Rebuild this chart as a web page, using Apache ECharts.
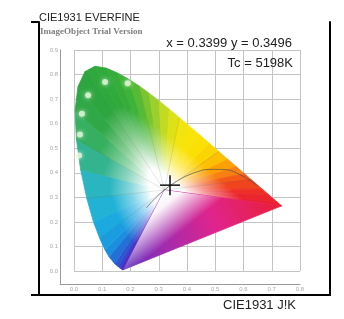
<!DOCTYPE html>
<html><head><meta charset="utf-8">
<script src="https://cdn.jsdelivr.net/npm/echarts@6/dist/echarts.min.js"></script>
<style>html,body{margin:0;padding:0;background:#fff}#c{width:344px;height:319px}</style>
</head><body><div id="c"></div>
<script>
// Spectral locus (CIE 1931), wavelength in nm
const wavelengths = [380,420,440,450,460,470,475,480,485,490,495,500,505,510,515,520,525,530,535,540,545,550,555,560,565,570,575,580,585,590,595,600,610,620,640,700];
const locusX = [0.1741,0.1714,0.1644,0.1566,0.1440,0.1241,0.1096,0.0913,0.0687,0.0454,0.0235,0.0082,0.0039,0.0139,0.0389,0.0743,0.1142,0.1547,0.1929,0.2296,0.2658,0.3016,0.3373,0.3731,0.4087,0.4441,0.4788,0.5125,0.5448,0.5752,0.6029,0.6270,0.6658,0.6915,0.7190,0.7347];
const locusY = [0.0050,0.0051,0.0109,0.0177,0.0297,0.0578,0.0868,0.1327,0.2007,0.2950,0.4127,0.5384,0.6548,0.7502,0.8120,0.8338,0.8262,0.8059,0.7816,0.7543,0.7243,0.6923,0.6589,0.6245,0.5896,0.5547,0.5202,0.4866,0.4544,0.4242,0.3965,0.3725,0.3340,0.3083,0.2809,0.2653];
const locusColors = ['#5a2bbd','#4a2ec4','#3a3fcc','#2f55d0','#2470d6','#1c8ede','#1a9de0','#1ca9df','#22b2d6','#2bb5c0','#33b48e','#36b060','#30a848','#2ea640','#2fa83e','#31aa3c','#36ad3a','#3fb238','#55ba35','#78c530','#9ccf2c','#c2da22','#dfe118','#f2e40e','#f8e408','#fbe005','#fbd404','#fbc004','#faa006','#f78010','#f35a18','#f0441f','#ed2f28','#eb252e','#ea2032','#e91e34'];
const purpleColors = ['#e91e34','#e0248c','#9c2cb0','#5a2bbd'];
// white point used for the fill
const whitePoint = [0.32, 0.33];
// Planckian locus
const planckX = [0.6528,0.5857,0.5267,0.4770,0.4369,0.4053,0.3805,0.3451,0.3221,0.3064,0.2952,0.2807,0.2637,0.2565];
const planckY = [0.3444,0.3931,0.4133,0.4137,0.4041,0.3907,0.3768,0.3516,0.3318,0.3166,0.3048,0.2883,0.2673,0.2577];
// dominant-wavelength guide lines
const guideWavelengths = [480,490,500,515,540,560,580,600];
// wavelength marker dots
const dotX = [0.110,0.190,0.050,0.028,0.021,0.018];
const dotY = [0.770,0.765,0.716,0.640,0.556,0.470];
// measured point
const measX = [0.3399];
const measY = [0.3496];
const measTc = [5198];

function mix(hex, t){ // mix with white, t = white fraction
  const r=parseInt(hex.substr(1,2),16), g=parseInt(hex.substr(3,2),16), b=parseInt(hex.substr(5,2),16);
  const f=v=>Math.round(v+(255-v)*t);
  return 'rgb('+f(r)+','+f(g)+','+f(b)+')';
}

const chart = echarts.init(document.getElementById('c'));
const segData = locusX.map((_, i) => [i]);
const guideData = guideWavelengths.map(w => {
  const i = wavelengths.indexOf(w);
  return {coords: [whitePoint, [locusX[i], locusY[i]]]};
});

const option = {
  animation: false,
  title: [
    {text: 'CIE1931 EVERFINE', left: 39, top: 12, padding: 0, textStyle: {fontSize: 11, fontWeight: 'normal', color: '#222', fontFamily: 'Liberation Sans'}},
    {text: 'ImageObject Trial Version', left: 40, top: 27, padding: 0, textStyle: {fontSize: 9, fontWeight: 'bold', color: '#808080', fontFamily: 'Liberation Serif'}},
    {text: 'x = ' + measX[0].toFixed(4) + ' y = ' + measY[0].toFixed(4), right: 52, top: 37, padding: 0, textStyle: {fontSize: 13, fontWeight: 'normal', color: '#222', fontFamily: 'Liberation Sans'}},
    {text: 'Tc = ' + measTc[0] + 'K', right: 51, top: 57, padding: 0, textStyle: {fontSize: 13, fontWeight: 'normal', color: '#222', fontFamily: 'Liberation Sans'}},
    {text: 'CIE1931 J!K', left: 223, top: 299, padding: 0, textStyle: {fontSize: 13, fontWeight: 'normal', color: '#222', fontFamily: 'Liberation Sans'}}
  ],
  grid: [
    {left: 39, right: 14, top: 22, bottom: 24},
    {left: 60, right: 44, top: 50, bottom: 35},
    {left: 74, right: 44, top: 50, bottom: 48}
  ],
  xAxis: [
    {gridIndex: 0, type: 'value', min: 0, max: 1, axisLine: {lineStyle: {color: '#000', width: 2}}, axisTick: {show: false}, axisLabel: {show: false}, splitLine: {show: false}},
    {gridIndex: 1, type: 'value', min: 0, max: 1, axisLine: {lineStyle: {color: '#9a9a9a', width: 1}}, axisTick: {show: false}, axisLabel: {show: false}, splitLine: {show: false}},
    {gridIndex: 2, type: 'value', min: 0, max: 0.8, interval: 0.1, axisLine: {show: false}, axisTick: {show: false},
      axisLabel: {fontSize: 6, color: '#aaa', margin: 15, formatter: v => v.toFixed(1)}, splitLine: {lineStyle: {color: '#c4c4c4', width: 1}}}
  ],
  yAxis: [
    {gridIndex: 0, type: 'value', min: 0, max: 1, interval: 1, axisLine: {lineStyle: {color: '#000', width: 2}}, axisTick: {show: true, length: 8, lineStyle: {color: '#000', width: 2}}, axisLabel: {show: false}, splitLine: {show: false}},
    {gridIndex: 0, type: 'value', position: 'right', min: 0, max: 1, axisLine: {show: true, onZero: false, lineStyle: {color: '#000', width: 2}}, axisTick: {show: false}, axisLabel: {show: false}, splitLine: {show: false}},
    {gridIndex: 1, type: 'value', min: 0, max: 1, axisLine: {lineStyle: {color: '#9a9a9a', width: 1}}, axisTick: {show: false}, axisLabel: {show: false}, splitLine: {show: false}},
    {gridIndex: 2, type: 'value', min: 0, max: 0.9, interval: 0.1, axisLine: {show: false}, axisTick: {show: false},
      axisLabel: {fontSize: 6, color: '#aaa', margin: 16, formatter: v => v.toFixed(1)}, splitLine: {lineStyle: {color: '#c4c4c4', width: 1}}}
  ],
  series: [
    {
      type: 'custom', xAxisIndex: 2, yAxisIndex: 3, data: segData, silent: true, z: 2,
      renderItem: function (params, api) {
        const i = api.value(0);
        const n = locusX.length;
        const j = (i + 1) % n;
        const W = api.coord(whitePoint);
        const A = api.coord([locusX[i], locusY[i]]);
        const B = api.coord([locusX[j], locusY[j]]);
        const M = [(A[0] + B[0]) / 2, (A[1] + B[1]) / 2];
        if (j === 0) {
          // line of purples
          const g1 = new echarts.graphic.LinearGradient(A[0], A[1], B[0], B[1], [
            {offset: 0, color: purpleColors[0]}, {offset: 0.4, color: purpleColors[1]}, {offset: 0.75, color: purpleColors[2]}, {offset: 1, color: purpleColors[3]}], true);
          const g2 = new echarts.graphic.LinearGradient(W[0], W[1], M[0], M[1], [
            {offset: 0, color: 'rgba(255,255,255,1)'}, {offset: 0.2, color: 'rgba(255,255,255,0.95)'}, {offset: 0.7, color: 'rgba(255,255,255,0)'}, {offset: 1, color: 'rgba(255,255,255,0)'}], true);
          return {type: 'group', children: [
            {type: 'polygon', shape: {points: [W, A, B]}, style: {fill: g1, stroke: g1, lineWidth: 0.8}},
            {type: 'polygon', shape: {points: [W, A, B]}, style: {fill: g2}}
          ]};
        }
        const c1 = locusColors[i];
        const gr = new echarts.graphic.LinearGradient(W[0], W[1], M[0], M[1], [
          {offset: 0, color: '#ffffff'}, {offset: 0.17, color: '#ffffff'}, {offset: 0.42, color: mix(c1, 0.45)}, {offset: 0.68, color: c1}, {offset: 1, color: c1}], true);
        return {type: 'polygon', shape: {points: [W, A, B]}, style: {fill: gr, stroke: gr, lineWidth: 0.8}};
      }
    },
    {
      type: 'lines', coordinateSystem: 'cartesian2d', xAxisIndex: 2, yAxisIndex: 3, silent: true, z: 3,
      data: guideData, lineStyle: {color: 'rgba(30,50,30,0.28)', width: 0.8}
    },
    {
      type: 'line', xAxisIndex: 2, yAxisIndex: 3, data: planckX.map((x, i) => [x, planckY[i]]), smooth: true,
      symbol: 'none', silent: true, z: 4, lineStyle: {color: 'rgba(80,80,80,0.7)', width: 1}
    },
    {
      type: 'scatter', xAxisIndex: 2, yAxisIndex: 3, data: dotX.map((x, i) => [x, dotY[i]]), symbolSize: 6, silent: true, z: 5,
      itemStyle: {color: '#e4f7d8', shadowBlur: 4, shadowColor: 'rgba(255,255,255,0.9)'}
    },
    {
      type: 'custom', xAxisIndex: 2, yAxisIndex: 3, data: measX.map((x, i) => [x, measY[i]]), silent: true, z: 6,
      renderItem: function (params, api) {
        const p = api.coord([api.value(0), api.value(1)]);
        return {type: 'group', children: [
          {type: 'line', shape: {x1: p[0] - 10, y1: p[1], x2: p[0] + 10, y2: p[1]}, style: {stroke: '#111', lineWidth: 1.5}},
          {type: 'line', shape: {x1: p[0], y1: p[1] - 10, x2: p[0], y2: p[1] + 10}, style: {stroke: '#111', lineWidth: 1.5}}
        ]};
      }
    }
  ]
};
chart.setOption(option);
</script></body></html>
